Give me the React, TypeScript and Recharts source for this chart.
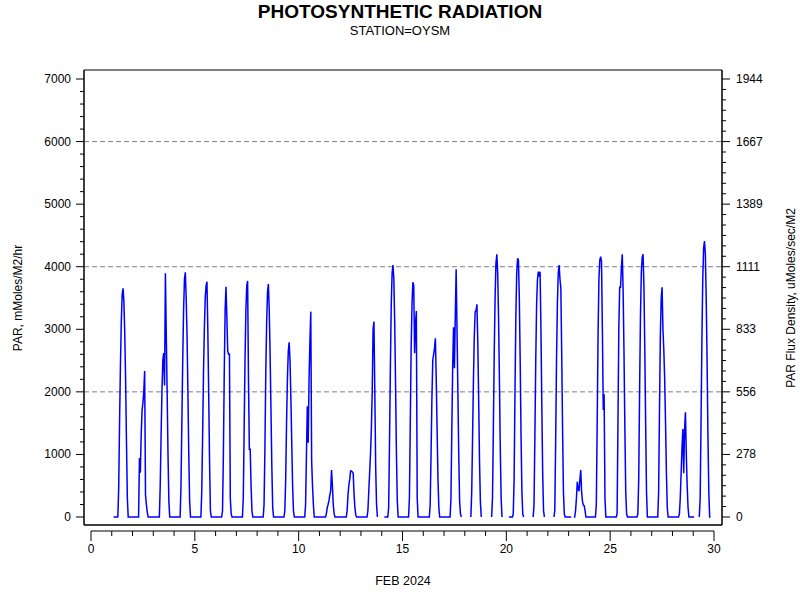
import React from "react";
import { LineChart, Line, XAxis, YAxis, ReferenceLine, ReferenceArea } from "recharts";

// hourly PAR readings, Feb 2024, station OYSM
const dayNumbers = [1, 2, 3, 4, 5, 6, 7, 8, 9, 10, 11, 12, 13, 14, 15, 16, 17, 18, 19, 20, 21, 22, 23, 24, 25, 26, 27, 28, 29];
const sunHours = [8, 9, 10, 11, 12, 13, 14, 15, 16, 17, 18, 19];
const parByDay = [
  [450, 1500, 2400, 3100, 3550, 3655, 3450, 2950, 2200, 1200, 300, 0],
  [943, 708, 1300, 1700, 1822, 2000, 2333, 350, 200, 80, 0, 0],
  [500, 1300, 2000, 2500, 2620, 2100, 3895, 2900, 2000, 1000, 250, 0],
  [500, 1500, 2500, 3300, 3800, 3911, 3500, 2900, 2000, 1000, 250, 0],
  [400, 1300, 2300, 3000, 3500, 3700, 3761, 3000, 2000, 900, 100, 0],
  [100, 1000, 2300, 3300, 3681, 3200, 2650, 2600, 2600, 300, 50, 0],
  [300, 1400, 2500, 3300, 3700, 3772, 2200, 1082, 1082, 500, 100, 0],
  [200, 1100, 2300, 3100, 3600, 3724, 3300, 2600, 1700, 800, 150, 0],
  [100, 600, 1500, 2200, 2650, 2792, 2500, 1900, 1200, 500, 100, 0],
  [200, 1000, 1770, 1188, 2200, 2800, 3282, 900, 500, 200, 0, 0],
  [50, 150, 200, 260, 350, 420, 751, 500, 190, 50, 0, 0],
  [100, 350, 511, 600, 735, 735, 720, 700, 368, 150, 30, 0],
  [100, 400, 700, 1000, 1390, 2000, 3000, 3122, 2000, 800, 200, 0],
  [150, 1200, 2400, 3400, 3900, 4027, 3800, 3100, 2100, 1000, 250, 0],
  [300, 1500, 2700, 3400, 3751, 3700, 2616, 3100, 3292, 300, 0, 0],
  [200, 1000, 1900, 2509, 2600, 2700, 2856, 2200, 1400, 600, 150, 0],
  [300, 1400, 2400, 3031, 2376, 3200, 3958, 3000, 2000, 1000, 250, 50],
  [400, 1300, 2200, 2900, 3281, 3300, 3399, 2800, 1900, 900, 250, 0],
  [300, 1400, 2600, 3500, 4050, 4198, 3900, 3200, 2200, 1100, 300, 0],
  [50, 600, 2000, 3200, 3900, 4134, 4100, 3500, 2500, 1300, 400, 50],
  [200, 1300, 2500, 3400, 3800, 3921, 3840, 3921, 3000, 1800, 700, 100],
  [100, 1200, 2500, 3400, 3900, 4027, 3800, 3655, 2600, 1400, 400, 50],
  [100, 300, 564, 450, 413, 600, 751, 400, 250, 190, 180, 100],
  [200, 1500, 2900, 3800, 4100, 4160, 4080, 3000, 1710, 1961, 300, 0],
  [50, 1500, 3000, 3671, 3671, 4000, 4198, 3600, 2600, 1400, 400, 50],
  [50, 600, 2000, 3200, 3900, 4150, 4198, 3700, 2700, 1500, 400, 0],
  [400, 1700, 2900, 3500, 3671, 3000, 2669, 2200, 1500, 700, 150, 0],
  [50, 300, 700, 1100, 1406, 698, 1400, 1673, 1000, 500, 150, 0],
  [300, 1500, 2800, 3800, 4300, 4411, 4200, 3500, 2500, 1300, 400, 0],
];
// missing readings: [day, first hour, last hour]
const gaps = [
  [13, 20, 23], [14, 0, 2], [17, 21, 23], [18, 0, 6], [18, 20, 23], [19, 0, 6],
  [19, 20, 23], [20, 0, 2], [20, 21, 23], [21, 0, 6], [21, 21, 23], [22, 0, 6],
  [23, 4, 5], [29, 2, 6],
];
const FIRST_HOUR = 2;
const LAST_HOUR = 20;

const leftTicks = [0, 1000, 2000, 3000, 4000, 5000, 6000, 7000];
const rightTickLabels = ["0", "278", "556", "833", "1111", "1389", "1667", "1944"];
const xTickLabels = [0, 5, 10, 15, 20, 25, 30];
const gridValues = [2000, 4000, 6000];

const X_DOMAIN = [-0.337, 30.385];
const Y_DOMAIN = [-128, 7144];
const PLOT_W = 638;
const PX_PER_DAY = PLOT_W / (X_DOMAIN[1] - X_DOMAIN[0]);
const FONT = "'Liberation Sans', Arial, sans-serif";

const isGap = (d: number, h: number) => gaps.some(([gd, a, b]) => gd === d && h >= a && h <= b);

const rows: { t: number; par: number | null }[] = [];
dayNumbers.forEach((d, i) => {
  for (let h = 0; h < 24; h++) {
    if (i === 0 && h < FIRST_HOUR) continue;
    if (i === dayNumbers.length - 1 && h > LAST_HOUR) continue;
    const k = sunHours.indexOf(h);
    rows.push({ t: d + h / 24, par: isGap(d, h) ? null : k >= 0 ? parByDay[i][k] : 0 });
  }
});

const last = leftTicks[leftTicks.length - 1];
const leftAll: number[] = [];
for (let v = 0; v <= last + 1e-6; v += 200) leftAll.push(v);
const rightAll: number[] = [];
for (let j = 0; j <= (leftTicks.length - 1) * 6; j++) rightAll.push((j * 1000) / 6);
const xAll: number[] = [];
for (let d = xTickLabels[0]; d <= xTickLabels[xTickLabels.length - 1]; d++) xAll.push(d);

const isMajor = (v: number) => Math.abs(v / 1000 - Math.round(v / 1000)) < 1e-6;

const LeftTick = (p: any) => {
  const v = p.payload.value;
  const major = isMajor(v);
  return (
    <g>
      <line x1={p.x - (major ? 8 : 4)} x2={p.x} y1={p.y} y2={p.y} stroke="#000" />
      {major && (
        <text x={p.x - 13} y={p.y + 4} textAnchor="end" fontSize={12} fontFamily={FONT} fill="#000">
          {v}
        </text>
      )}
    </g>
  );
};

const RightTick = (p: any) => {
  const v = p.payload.value;
  const major = isMajor(v);
  return (
    <g>
      <line x1={p.x} x2={p.x + (major ? 8 : 4)} y1={p.y} y2={p.y} stroke="#000" />
      {major && (
        <text x={p.x + 14} y={p.y + 4} textAnchor="start" fontSize={12} fontFamily={FONT} fill="#000">
          {rightTickLabels[Math.round(v / 1000)]}
        </text>
      )}
    </g>
  );
};

const BottomTick = (p: any) => {
  const v = p.payload.value;
  const major = xTickLabels.includes(v);
  const y0 = p.y + 6;
  return (
    <g>
      {v < xTickLabels[xTickLabels.length - 1] && (
        <line x1={p.x} x2={p.x + PX_PER_DAY} y1={y0} y2={y0} stroke="#000" />
      )}
      <line x1={p.x} x2={p.x} y1={y0} y2={y0 + (major ? 10 : 5)} stroke="#000" />
      {major && (
        <text x={p.x} y={y0 + 22} textAnchor="middle" fontSize={12} fontFamily={FONT} fill="#000">
          {v}
        </text>
      )}
    </g>
  );
};

export default function App() {
  return (
    <div style={{ position: "absolute", left: 0, top: 0, width: 800, height: 600, background: "#fff" }}>
      <LineChart width={800} height={600} data={rows} margin={{ top: 70, right: 0, bottom: 0, left: 0 }}>
        <XAxis
          dataKey="t"
          type="number"
          domain={X_DOMAIN}
          allowDataOverflow
          ticks={xAll}
          interval={0}
          tick={BottomTick}
          tickLine={false}
          tickSize={0}
          tickMargin={0}
          axisLine={{ stroke: "#000" }}
          height={75}
        />
        <YAxis
          yAxisId="left"
          type="number"
          domain={Y_DOMAIN}
          allowDataOverflow
          ticks={leftAll}
          interval={0}
          tick={LeftTick}
          tickLine={false}
          tickSize={0}
          tickMargin={0}
          axisLine={{ stroke: "#000" }}
          width={84}
        />
        <YAxis
          yAxisId="right"
          orientation="right"
          type="number"
          domain={Y_DOMAIN}
          allowDataOverflow
          ticks={rightAll}
          interval={0}
          tick={RightTick}
          tickLine={false}
          tickSize={0}
          tickMargin={0}
          axisLine={{ stroke: "#000" }}
          width={78}
        />
        <ReferenceArea
          yAxisId="left"
          x1={X_DOMAIN[0]}
          x2={X_DOMAIN[1]}
          y1={Y_DOMAIN[0]}
          y2={Y_DOMAIN[1]}
          fill="none"
          stroke="#000"
          fillOpacity={0}
        />
        {gridValues.map((g) => (
          <ReferenceLine key={g} yAxisId="left" y={g} stroke="#808080" strokeDasharray="5 3" />
        ))}
        <Line
          yAxisId="left"
          dataKey="par"
          type="linear"
          stroke="#0000ff"
          strokeWidth={1.5}
          dot={false}
          connectNulls={false}
          isAnimationActive={false}
        />
      </LineChart>
      <svg width={800} height={600} style={{ position: "absolute", left: 0, top: 0, pointerEvents: "none" }}>
        <text x={400} y={18} textAnchor="middle" fontSize={19} fontWeight="bold" fontFamily={FONT}>
          PHOTOSYNTHETIC RADIATION
        </text>
        <text x={400} y={35} textAnchor="middle" fontSize={13} fontFamily={FONT}>
          STATION=OYSM
        </text>
        <text x={403} y={585} textAnchor="middle" fontSize={12.5} fontFamily={FONT}>
          FEB 2024
        </text>
        <text transform="translate(22,298) rotate(-90)" textAnchor="middle" fontSize={12} fontFamily={FONT}>
          PAR, mMoles/M2/hr
        </text>
        <text transform="translate(795,298) rotate(-90)" textAnchor="middle" fontSize={12} fontFamily={FONT}>
          PAR Flux Density, uMoles/sec/M2
        </text>
      </svg>
    </div>
  );
}
